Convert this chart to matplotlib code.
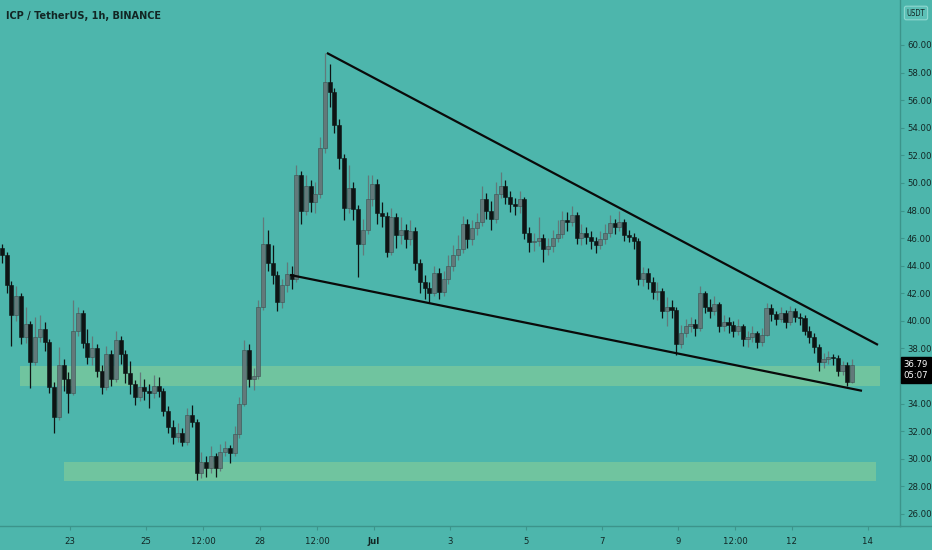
import numpy as np
import matplotlib
matplotlib.use('Agg')
import matplotlib.pyplot as plt

# 3-hour candles, hours counted from 23 Jun 00:00
first_hour = -43
step = 3

close = [44.8, 42.6, 40.4, 41.8, 38.8, 39.8, 37.0, 38.8, 39.4, 38.5,
         35.2, 33.0, 36.8, 35.8, 34.8, 39.3, 40.6, 38.4, 37.4, 38.0,
         36.4, 35.2, 37.6, 35.8, 38.6, 37.6, 36.2, 35.4, 34.5, 35.2,
         34.9, 34.8, 35.3, 34.9, 33.5, 32.3, 31.6, 31.9, 31.2, 33.2,
         32.7, 29.0, 29.8, 29.3, 30.2, 29.3, 30.5, 30.8, 30.4, 31.8,
         34.0, 37.9, 35.8, 36.0, 41.0, 45.6, 44.2, 43.3, 41.4, 42.6,
         43.4, 43.0, 50.6, 48.0, 49.8, 48.6, 49.2, 52.5, 57.3, 56.6,
         54.2, 51.8, 48.2, 49.6, 48.1, 45.6, 46.6, 48.8, 49.9, 47.8,
         47.6, 45.0, 47.5, 46.2, 46.6, 45.9, 46.5, 44.2, 42.8, 42.4,
         42.0, 43.5, 42.1, 43.0, 44.0, 44.8, 45.2, 47.0, 45.9, 46.7,
         47.2, 48.8, 48.0, 47.4, 49.2, 49.8, 49.0, 48.5, 48.3, 48.8,
         46.4, 45.7, 45.8, 46.0, 45.2, 45.4, 46.0, 46.3, 47.3, 47.2,
         47.7, 46.0, 46.4, 46.1, 45.8, 45.5, 45.9, 46.4, 47.1, 46.8,
         47.2, 46.2, 46.1, 45.8, 43.0, 43.5, 42.8, 42.1, 42.2, 40.7,
         41.0, 40.8, 38.3, 39.1, 39.6, 39.8, 39.5, 42.0, 41.0, 40.7,
         41.2, 39.6, 39.9, 39.7, 39.3, 39.6, 38.7, 38.8, 39.1, 38.5,
         39.0, 40.9, 40.5, 40.1, 40.6, 39.9, 40.7, 40.3, 40.2, 39.3,
         38.8, 38.1, 37.0, 37.2, 37.4, 37.3, 36.4, 36.8, 35.6, 36.79]

high = [45.6, 45.0, 42.9, 42.5, 42.0, 41.0, 40.0, 40.3, 40.4, 39.9,
        38.7, 35.6, 38.1, 37.2, 36.3, 41.5, 41.0, 40.8, 39.4, 38.9,
        38.3, 36.8, 38.2, 37.9, 39.3, 38.9, 37.9, 37.1, 35.7, 36.3,
        35.8, 35.4, 36.1, 35.9, 35.1, 33.8, 32.8, 32.6, 32.2, 33.7,
        33.9, 32.9, 30.5, 30.2, 30.9, 30.4, 31.1, 31.3, 31.0, 32.4,
        34.5, 38.6, 38.3, 36.6, 41.5, 47.5, 46.6, 45.5, 43.6, 43.0,
        44.3, 44.0, 51.3, 50.9, 50.6, 50.2, 50.1, 53.3, 59.4, 58.6,
        56.9, 54.6, 52.1, 51.3, 50.1, 48.4, 47.4, 50.6, 50.6, 50.3,
        48.6, 47.9, 48.2, 47.8, 47.5, 47.0, 47.3, 46.8, 44.5, 43.3,
        42.8, 44.0, 43.8, 43.6, 44.8, 45.5, 46.2, 47.6, 47.4, 47.3,
        47.8, 49.8, 49.3, 48.7, 50.1, 50.8, 50.2, 49.4, 48.9, 49.4,
        49.0, 46.8, 46.4, 47.5, 46.3, 46.0, 46.6, 47.3, 48.0, 47.9,
        48.3, 47.9, 47.0, 46.8, 46.5, 46.1, 46.5, 47.0, 47.7, 47.4,
        48.0, 47.4, 46.6, 46.4, 46.0, 43.9, 43.8, 43.2, 42.8, 42.4,
        41.7, 41.5, 41.0, 39.7, 40.1, 40.3, 40.1, 42.5, 42.2, 41.6,
        41.8, 41.4, 40.4, 40.3, 40.0, 40.1, 39.8, 39.3, 39.6, 39.3,
        39.5, 41.3, 41.2, 40.7, 41.0, 40.8, 41.1, 40.9, 40.6, 40.4,
        39.6, 39.1, 38.3, 37.7, 37.8, 37.6, 37.5, 37.1, 37.0, 37.2]

low = [44.2, 42.0, 38.2, 40.0, 38.3, 38.4, 35.1, 36.8, 38.5, 37.8,
       34.8, 31.9, 32.8, 34.9, 33.3, 34.6, 38.9, 38.0, 36.9, 36.8,
       35.9, 34.7, 35.0, 35.3, 35.6, 36.9, 35.5, 34.7, 33.9, 34.2,
       34.3, 33.7, 34.4, 34.5, 33.1, 31.9, 31.1, 31.2, 30.9, 31.0,
       32.3, 28.5, 28.6, 28.7, 29.0, 28.7, 29.1, 30.2, 29.7, 30.2,
       31.5, 33.8, 35.2, 35.0, 35.8, 40.8, 43.6, 42.7, 40.7, 40.9,
       42.1, 42.3, 42.8, 47.0, 47.7, 47.9, 47.8, 48.9, 52.2, 55.5,
       53.6, 51.0, 47.3, 47.8, 47.3, 43.2, 44.8, 46.3, 48.3, 47.0,
       46.8, 44.6, 44.8, 45.3, 45.6, 45.3, 45.5, 43.7, 42.0, 41.6,
       41.4, 41.8, 41.6, 41.8, 42.7, 43.6, 44.4, 44.9, 45.3, 45.5,
       46.2, 46.9, 47.4, 46.6, 47.1, 48.9, 48.5, 47.9, 47.7, 47.8,
       45.9, 45.0, 45.1, 45.4, 44.3, 44.8, 45.0, 45.7, 46.0, 46.5,
       46.9, 45.6, 45.5, 45.6, 45.2, 44.9, 45.2, 45.6, 46.1, 46.3,
       46.5, 45.8, 45.7, 45.2, 42.6, 42.5, 42.3, 41.6, 41.5, 40.2,
       39.6, 40.2, 37.5, 38.0, 38.8, 39.2, 38.9, 39.3, 40.6, 40.2,
       40.4, 39.2, 39.3, 39.1, 38.8, 39.0, 38.2, 38.1, 38.5, 38.0,
       38.2, 38.9, 40.0, 39.7, 39.9, 39.5, 39.7, 39.9, 39.7, 39.0,
       38.4, 37.7, 36.4, 36.6, 36.9, 36.8, 36.0, 36.1, 35.3, 35.5]

first_open = 45.3

# support / resistance boxes: (start hour, end hour, low, high)
zones = [(-31.6, 511.7, 35.3, 36.7),
         (-3.8, 509.0, 28.4, 29.8)]

# wedge lines: ((hour, price), (hour, price))
trend_lines = [((162.3, 59.42), (510.4, 38.26)),
               ((139.0, 43.33), (500.3, 34.93))]

x_tick_hours = [0, 48, 84, 120, 156, 192, 240, 288, 336, 384, 420, 456, 504]
x_tick_labels = ['23', '25', '12:00', '28', '12:00', 'Jul', '3', '5', '7',
                 '9', '12:00', '12', '14']
y_ticks = [26, 28, 30, 32, 34, 38, 40, 42, 44, 46, 48, 50, 52, 54, 56, 58, 60]

bg = '#4db6ac'
up_col = '#62797a'
down_col = '#0e1414'
text_col = '#122624'
axis_col = '#3c948b'
fam = ['DejaVu Sans']

close = np.array(close)
high = np.array(high)
low = np.array(low)
opens = np.concatenate([[first_open], close[:-1]])
t = first_hour + step * np.arange(len(close))
up = close >= opens

fig = plt.figure(figsize=(9.32, 5.5), dpi=100, facecolor=bg)
ax = fig.add_axes([0, 24 / 550, 900 / 932, 526 / 550], facecolor=bg)

for h0, h1, lo, hi in zones:
    ax.fill_between([h0, h1], lo, hi, color='#7cc99b', alpha=0.75, lw=0, zorder=1)

colors = np.where(up, up_col, down_col)
ax.vlines(t, low, high, colors=colors, lw=0.9, zorder=2)
body_bottom = np.minimum(opens, close)
body_h = np.maximum(np.abs(close - opens), 0.08)
ax.bar(t, body_h, bottom=body_bottom, width=2.6, color=colors,
       edgecolor=np.where(up, '#3d4f4f', down_col), lw=0.4, zorder=3)

for (h0, p0), (h1, p1) in trend_lines:
    ax.plot([h0, h1], [p0, p1], color='#0a0a0a', lw=1.6, zorder=4,
            solid_capstyle='butt')

ax.set_xlim(-44.2, 524.3)
ax.set_ylim(25.13, 63.26)

ax.yaxis.tick_right()
ax.set_yticks(y_ticks)
ax.set_yticklabels(['%.2f' % v for v in y_ticks])
ax.set_xticks(x_tick_hours)
ax.set_xticklabels(x_tick_labels)

ax.tick_params(axis='both', colors=axis_col, labelcolor=text_col,
               labelsize=6.8, length=3, width=0.8, pad=2)
ax.tick_params(axis='x', pad=5)
for lab in ax.get_xticklabels() + ax.get_yticklabels():
    lab.set_family(fam)
    lab.set_stretch('condensed')
    if lab.get_text() == 'Jul':
        lab.set_fontweight('bold')

for side in ['top', 'left']:
    ax.spines[side].set_visible(False)
ax.spines['right'].set_color(axis_col)
ax.spines['bottom'].set_color(axis_col)
ax.spines['right'].set_linewidth(1.0)
ax.spines['bottom'].set_linewidth(1.0)

# bottom rule continues under the price scale
fig.add_artist(plt.Line2D([900 / 932, 1], [24 / 550, 24 / 550],
                          color=axis_col, lw=1.0))

fig.text(6 / 932, 1 - 16 / 550, 'ICP / TetherUS, 1h, BINANCE', fontsize=7.8,
         fontweight='bold', fontstretch='condensed', color=text_col,
         family=fam, va='center')

fig.text(916 / 932, 1 - 13 / 550, 'USDT', fontsize=5.5, color=text_col,
         ha='center', va='center', fontstretch='condensed', family=fam,
         bbox=dict(boxstyle='round,pad=0.3,rounding_size=0.25', fc='#5cc0b6',
                   ec='#8fd8d0', lw=0.8))

fig.text(916 / 932, 1 - 370 / 550, '36.79\n05:07', fontsize=6.8, color='white',
         ha='center', va='center', linespacing=1.2, fontstretch='condensed',
         family=fam,
         bbox=dict(boxstyle='square,pad=0.3', fc='black', ec='black'))

fig.savefig('out.png', dpi=100, facecolor=bg)
